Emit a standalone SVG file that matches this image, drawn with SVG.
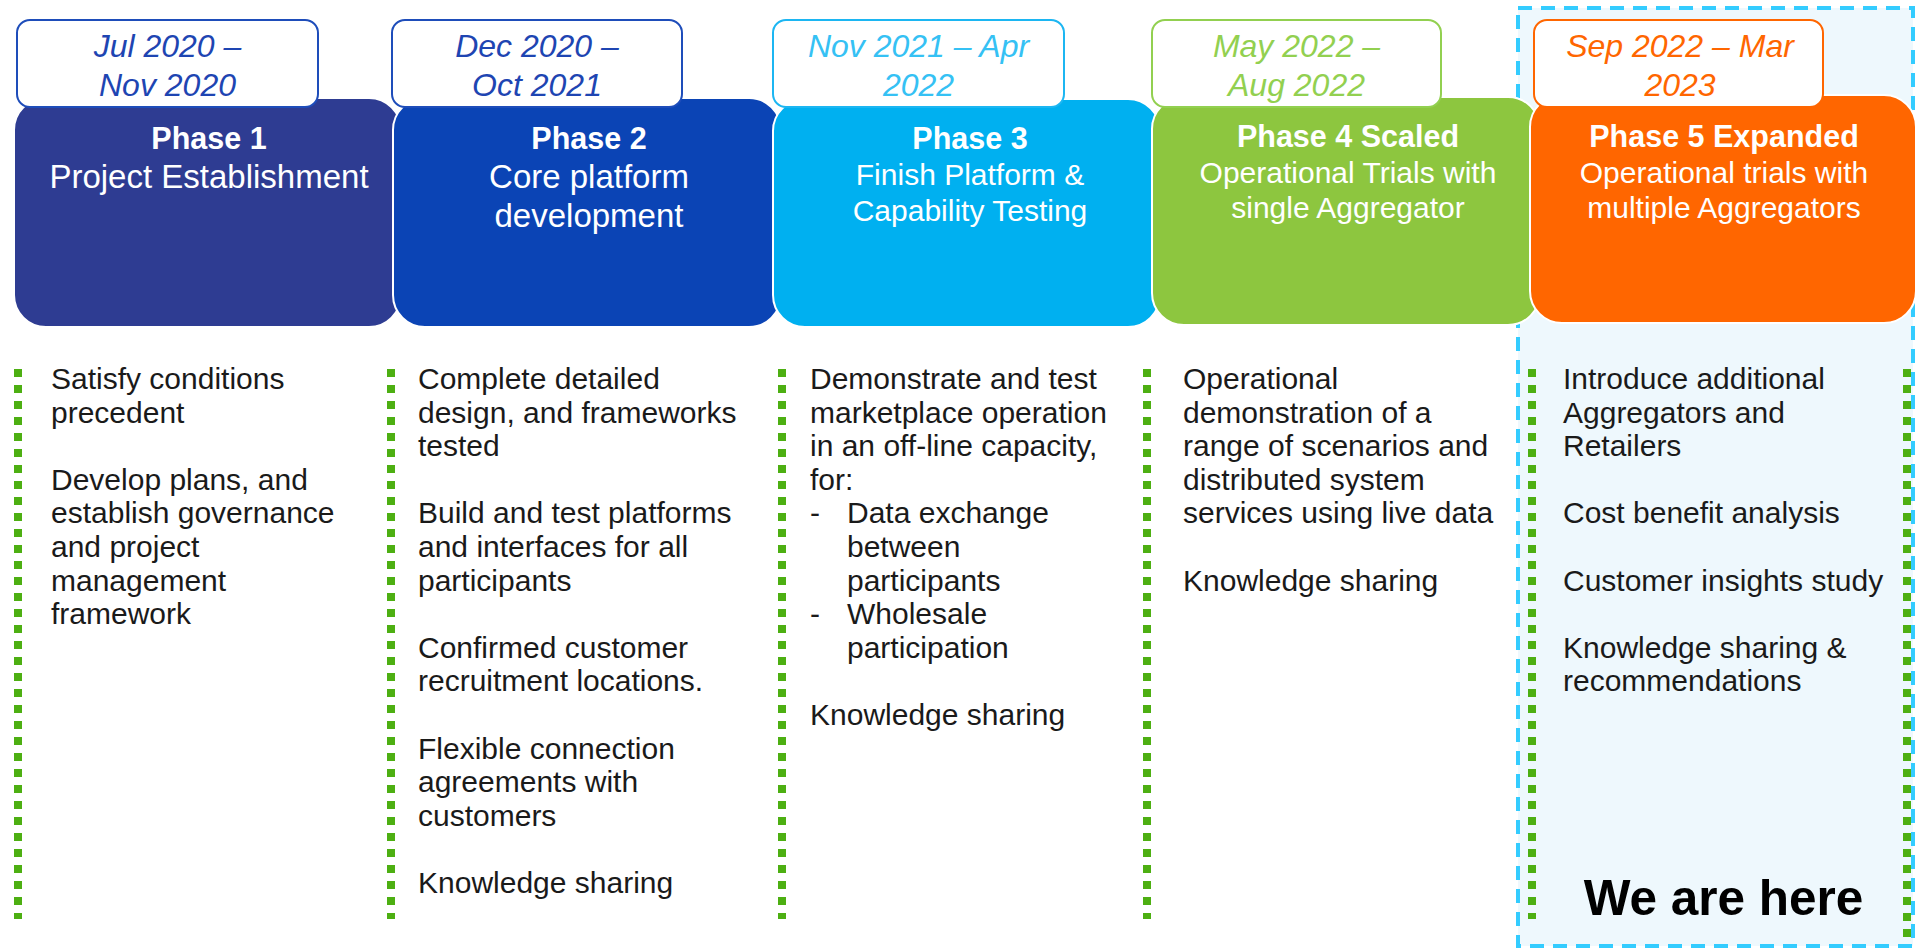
<svg xmlns="http://www.w3.org/2000/svg" width="1916" height="950" viewBox="0 0 1916 950">
<style>
.phase{stroke:#ffffff;stroke-width:2}
.date{fill:#ffffff;stroke-width:2}
.dtxt{font-family:"Liberation Sans",Arial,sans-serif;font-style:italic;font-size:32px;text-anchor:middle}
.ttl{font-family:"Liberation Sans",Arial,sans-serif;font-weight:bold;font-size:30.5px;fill:#ffffff;text-anchor:middle}
.sub{font-family:"Liberation Sans",Arial,sans-serif;font-size:33px;fill:#ffffff;text-anchor:middle}
.sub2{font-family:"Liberation Sans",Arial,sans-serif;font-size:30px;fill:#ffffff;text-anchor:middle}
.body{font-family:"Liberation Sans",Arial,sans-serif;font-size:30px;fill:#1a1a1a}
.dots{stroke:#4DAF12;stroke-width:8;stroke-dasharray:8 8;fill:none}
.here{font-family:"Liberation Sans",Arial,sans-serif;font-weight:bold;font-size:49.5px;fill:#000000;text-anchor:middle}
</style>

<g id="current-highlight">
<rect x="1518" y="8" width="395" height="938" fill="#EEF8FD" stroke="#33CCFF" stroke-width="4" stroke-dasharray="14 9"/>
</g>

<g id="phase1">
<rect class="phase" x="14" y="98" width="387" height="229" rx="32" fill="#2E3C92"/>
<rect class="date" x="17" y="20" width="301" height="87" rx="13" stroke="#1E4DBA"/>
<text class="dtxt" fill="#1E45B2" x="167.5" y="57">Jul 2020 –</text>
<text class="dtxt" fill="#1E45B2" x="167.5" y="96">Nov 2020</text>
<text class="ttl" x="209" y="149">Phase 1</text>
<text class="sub" x="209" y="188">Project Establishment</text>
<text class="body"><tspan x="51" y="389">Satisfy conditions</tspan><tspan x="51" y="422.6">precedent</tspan><tspan x="51" y="489.8">Develop plans, and</tspan><tspan x="51" y="523.4">establish governance</tspan><tspan x="51" y="557">and project</tspan><tspan x="51" y="590.6">management</tspan><tspan x="51" y="624.2">framework</tspan></text>
</g>

<g id="phase2">
<rect class="phase" x="393" y="98" width="388" height="229" rx="32" fill="#0B44B5"/>
<rect class="date" x="392" y="20" width="290" height="87" rx="13" stroke="#1E4DBA"/>
<text class="dtxt" fill="#1E45B2" x="537" y="57">Dec 2020 –</text>
<text class="dtxt" fill="#1E45B2" x="537" y="96">Oct 2021</text>
<text class="ttl" x="589" y="149">Phase 2</text>
<text class="sub" x="589" y="188">Core platform</text>
<text class="sub" x="589" y="227">development</text>
<text class="body"><tspan x="418" y="389">Complete detailed</tspan><tspan x="418" y="422.6">design, and frameworks</tspan><tspan x="418" y="456.2">tested</tspan><tspan x="418" y="523.4">Build and test platforms</tspan><tspan x="418" y="557">and interfaces for all</tspan><tspan x="418" y="590.6">participants</tspan><tspan x="418" y="657.8">Confirmed customer</tspan><tspan x="418" y="691.4">recruitment locations.</tspan><tspan x="418" y="758.6">Flexible connection</tspan><tspan x="418" y="792.2">agreements with</tspan><tspan x="418" y="825.8">customers</tspan><tspan x="418" y="893">Knowledge sharing</tspan></text>
</g>

<g id="phase3">
<rect class="phase" x="773" y="99" width="387" height="228" rx="32" fill="#00B0F0"/>
<rect class="date" x="773" y="20" width="291" height="87" rx="13" stroke="#1CB6F2"/>
<text class="dtxt" fill="#35C1F4" x="918.5" y="57">Nov 2021 – Apr</text>
<text class="dtxt" fill="#35C1F4" x="918.5" y="96">2022</text>
<text class="ttl" x="970" y="149">Phase 3</text>
<text class="sub2" x="970" y="185">Finish Platform &amp;</text>
<text class="sub2" x="970" y="221">Capability Testing</text>
<text class="body"><tspan x="810" y="389">Demonstrate and test</tspan><tspan x="810" y="422.6">marketplace operation</tspan><tspan x="810" y="456.2">in an off-line capacity,</tspan><tspan x="810" y="489.8">for:</tspan><tspan x="810" y="523.4">-</tspan><tspan x="847" y="523.4">Data exchange</tspan><tspan x="847" y="557">between</tspan><tspan x="847" y="590.6">participants</tspan><tspan x="810" y="624.2">-</tspan><tspan x="847" y="624.2">Wholesale</tspan><tspan x="847" y="657.8">participation</tspan><tspan x="810" y="725">Knowledge sharing</tspan></text>
</g>

<g id="phase4">
<rect class="phase" x="1152" y="97" width="388" height="228" rx="32" fill="#8DC63F"/>
<rect class="date" x="1152" y="20" width="289" height="87" rx="13" stroke="#92D050"/>
<text class="dtxt" fill="#92D050" x="1296.5" y="57">May 2022 –</text>
<text class="dtxt" fill="#92D050" x="1296.5" y="96">Aug 2022</text>
<text class="ttl" x="1348" y="147">Phase 4 Scaled</text>
<text class="sub2" x="1348" y="183">Operational Trials with</text>
<text class="sub2" x="1348" y="218">single Aggregator</text>
<text class="body"><tspan x="1183" y="389">Operational</tspan><tspan x="1183" y="422.6">demonstration of a</tspan><tspan x="1183" y="456.2">range of scenarios and</tspan><tspan x="1183" y="489.8">distributed system</tspan><tspan x="1183" y="523.4">services using live data</tspan><tspan x="1183" y="590.6">Knowledge sharing</tspan></text>
</g>

<g id="phase5">
<rect class="phase" x="1530" y="95" width="386" height="228" rx="32" fill="#FF6600"/>
<rect class="date" x="1534" y="20" width="289" height="87" rx="13" stroke="#FF6600"/>
<text class="dtxt" fill="#FF6600" x="1680" y="57">Sep 2022 – Mar</text>
<text class="dtxt" fill="#FF6600" x="1680" y="96">2023</text>
<text class="ttl" x="1724" y="147">Phase 5 Expanded</text>
<text class="sub2" x="1724" y="183">Operational trials with</text>
<text class="sub2" x="1724" y="218">multiple Aggregators</text>
<text class="body"><tspan x="1563" y="389">Introduce additional</tspan><tspan x="1563" y="422.6">Aggregators and</tspan><tspan x="1563" y="456.2">Retailers</tspan><tspan x="1563" y="523.4">Cost benefit analysis</tspan><tspan x="1563" y="590.6">Customer insights study</tspan><tspan x="1563" y="657.8">Knowledge sharing &amp;</tspan><tspan x="1563" y="691.4">recommendations</tspan></text>
<text class="here" x="1723.5" y="915">We are here</text>
</g>

<g id="dividers">
<line class="dots" x1="18" y1="369" x2="18" y2="919"/>
<line class="dots" x1="391" y1="369" x2="391" y2="919"/>
<line class="dots" x1="782" y1="369" x2="782" y2="919"/>
<line class="dots" x1="1147" y1="369" x2="1147" y2="919"/>
<line class="dots" x1="1532" y1="369" x2="1532" y2="919"/>
<line class="dots" x1="1907" y1="369" x2="1907" y2="938"/>
</g>
</svg>
